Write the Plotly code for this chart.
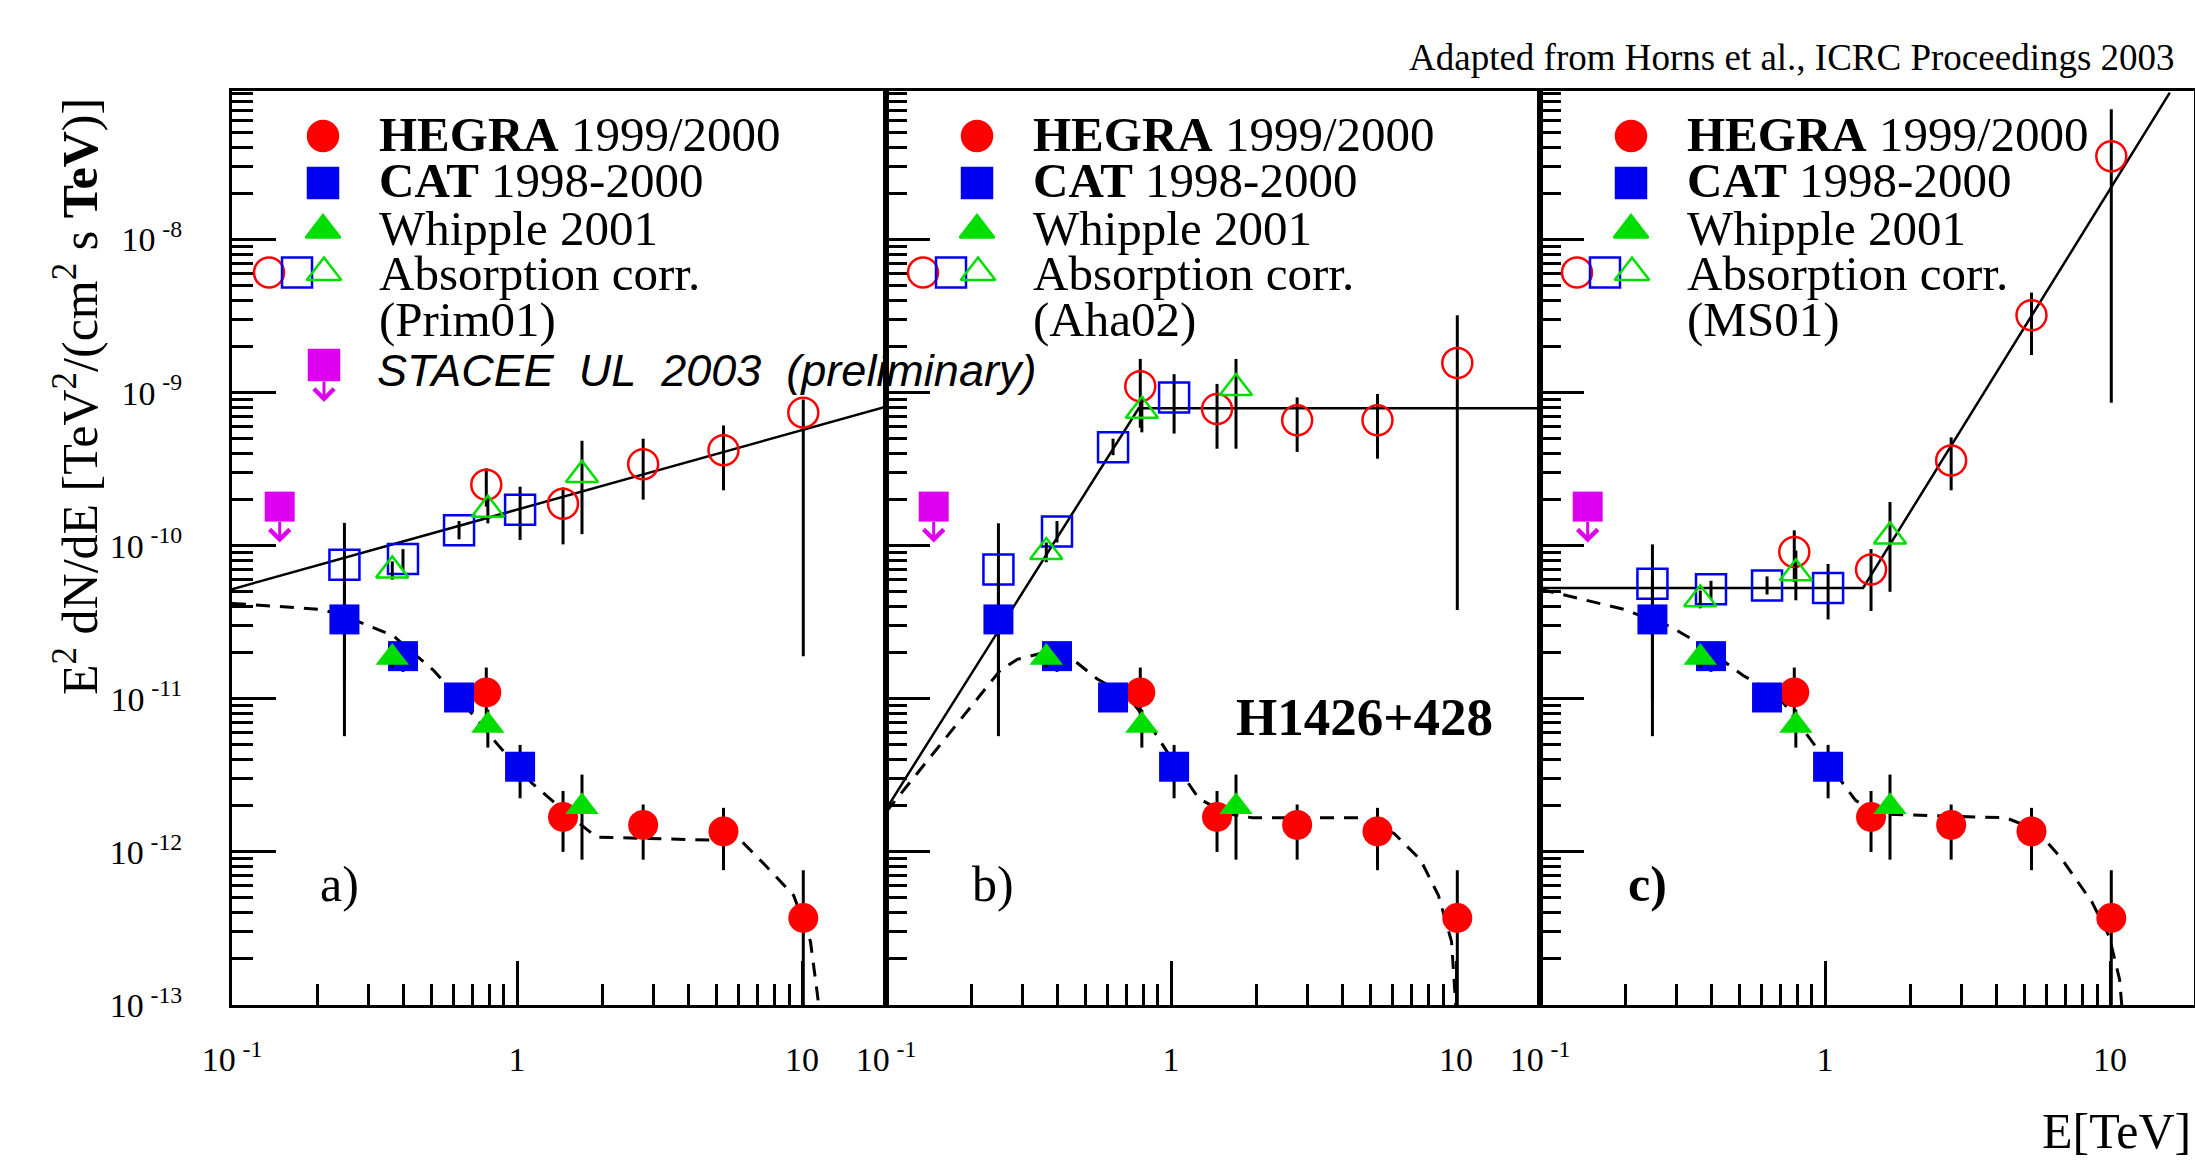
import numpy as np
import plotly.graph_objects as go

W, H = 2195, 1163

# ---------------- measured spectra (E in TeV, E^2 dN/dE in TeV cm^-2 s^-1) ----------------
hegra_e = [0.78, 1.45, 2.77, 5.3, 10.1]
hegra_f = [1.10e-11, 1.69e-12, 1.50e-12, 1.36e-12, 3.7e-13]
hegra_hi = [1.6e-11, 2.5e-12, 2.04e-12, 1.94e-12, 7.6e-13]
hegra_lo = [7.6e-12, 1.0e-12, 8.9e-13, 7.6e-13, 1e-15]

cat_e = [0.248, 0.398, 0.626, 1.025]
cat_f = [3.3e-11, 1.9e-11, 1.02e-11, 3.6e-12]
cat_hi = [6.2e-11, 2.25e-11, 1.2e-11, 5.0e-12]
cat_lo = [5.7e-12, 1.5e-11, 8.8e-12, 2.24e-12]

whipple_e = [0.365, 0.79, 1.69]
whipple_f = [1.86e-11, 6.7e-12, 1.97e-12]
whipple_hi = [2.1e-11, 8.5e-12, 3.2e-12]
whipple_lo = [1.6e-11, 4.8e-12, 8.9e-13]

stacee_e = [0.147]
stacee_f = [1.8e-10]

# ---------------- absorption-corrected spectra ----------------
prim01_hegra_f = [2.5e-10, 1.88e-10, 3.4e-10, 4.2e-10, 7.4e-10]
prim01_hegra_hi = [3.2e-10, 2.4e-10, 5.0e-10, 6.1e-10, 9.0e-10]
prim01_hegra_lo = [1.8e-10, 1.02e-10, 2.0e-10, 2.3e-10, 1.9e-11]
prim01_cat_f = [7.5e-11, 8.2e-11, 1.26e-10, 1.72e-10]
prim01_cat_hi = [1.41e-10, 9.5e-11, 1.45e-10, 2.43e-10]
prim01_cat_lo = [1.3e-11, 6.9e-11, 1.1e-10, 1.09e-10]
prim01_whipple_f = [6.9e-11, 1.72e-10, 2.9e-10]
prim01_whipple_hi = [7.9e-11, 2.1e-10, 4.85e-10]
prim01_whipple_lo = [6.0e-11, 1.4e-10, 1.19e-10]

aha02_hegra_f = [1.1e-9, 7.8e-10, 6.6e-10, 6.6e-10, 1.56e-9]
aha02_hegra_hi = [1.66e-9, 1.14e-9, 9.3e-10, 9.8e-10, 3.2e-9]
aha02_hegra_lo = [5.9e-10, 4.3e-10, 4.1e-10, 3.7e-10, 3.8e-11]
aha02_cat_f = [7.0e-11, 1.24e-10, 4.4e-10, 9.3e-10]
aha02_cat_hi = [1.4e-10, 1.45e-10, 5.0e-10, 1.32e-9]
aha02_cat_lo = [1.2e-11, 1.05e-10, 3.9e-10, 5.4e-10]
aha02_whipple_f = [9.1e-11, 7.6e-10, 1.07e-9]
aha02_whipple_hi = [1.05e-10, 9.5e-10, 1.66e-9]
aha02_whipple_lo = [7.8e-11, 5.5e-10, 4.3e-10]

ms01_hegra_f = [9.1e-11, 7.0e-11, 3.6e-10, 3.2e-9, 3.5e-8]
ms01_hegra_hi = [1.26e-10, 9.5e-11, 5.1e-10, 4.5e-9, 7.1e-8]
ms01_hegra_lo = [5.8e-11, 3.75e-11, 2.3e-10, 1.76e-9, 8.6e-10]
ms01_cat_f = [5.65e-11, 5.2e-11, 5.5e-11, 5.3e-11]
ms01_cat_hi = [1.02e-10, 5.9e-11, 6.3e-11, 7.6e-11]
ms01_cat_lo = [1.0e-11, 4.5e-11, 4.8e-11, 3.3e-11]
ms01_whipple_f = [4.47e-11, 6.6e-11, 1.15e-10]
ms01_whipple_hi = [5.1e-11, 9.3e-11, 1.93e-10]
ms01_whipple_lo = [3.9e-11, 4.4e-11, 5.0e-11]

# ---------------- model curves ----------------
# observed (absorbed) spectrum shapes
obs_a_e = [0.1, 0.201, 0.242, 0.369, 0.512, 0.711, 0.857, 1.13, 1.57, 1.90, 6.12, 7.37, 9.34, 10.7, 11.3, 11.6]
obs_a_f = [4.2e-11, 3.85e-11, 3.55e-11, 2.57e-11, 1.52e-11, 7.6e-12, 5.0e-12, 2.8e-12, 1.66e-12,
           1.25e-12, 1.18e-12, 8.3e-13, 5.2e-13, 2.6e-13, 1.2e-13, 8e-14]
obs_b_e = [0.1, 0.252, 0.289, 0.345, 0.444, 0.55, 0.706, 0.845, 1.01, 1.25, 1.55, 1.93, 4.55, 6.06,
           7.5, 8.67, 9.64, 10.0, 10.05]
obs_b_f = [1.82e-12, 1.54e-11, 1.81e-11, 1.97e-11, 1.86e-11, 1.35e-11, 1.04e-11, 6.7e-12, 4.0e-12,
           2.24e-12, 1.78e-12, 1.67e-12, 1.67e-12, 1.32e-12, 8.9e-13, 5.2e-13, 2.6e-13, 1.0e-13, 8e-14]
obs_c_e = [0.1, 0.195, 0.286, 0.365, 0.516, 0.682, 0.966, 1.28, 1.52, 4.31, 5.5, 6.77, 8.64, 9.93,
           10.8, 11.0, 11.1]
obs_c_f = [5.2e-11, 3.86e-11, 2.97e-11, 2.28e-11, 1.42e-11, 1.06e-11, 4.4e-12, 2.17e-12, 1.77e-12,
           1.67e-12, 1.4e-12, 9.0e-13, 4.7e-13, 2.8e-13, 1.47e-13, 1.0e-13, 8e-14]
# intrinsic (de-absorbed) spectrum fits
fit_a_e = [0.1, 19.7]
fit_a_f = [5.2e-11, 8.1e-10]
fit_b_e = [0.1, 0.77, 19.7]
fit_b_f = [1.9e-12, 7.9e-10, 7.9e-10]
fit_c_e = [0.1, 1.36, 16.2]
fit_c_f = [5.3e-11, 5.3e-11, 9.1e-8]

panel_labels = ["a)", "b)", "<b>c)</b>"]
ebl_models = ["(Prim01)", "(Aha02)", "(MS01)"]
x_tick_vals = [0.1, 1, 10]
x_tick_text = ["10\u2009<sup>-1</sup>", "1", "10"]
y_tick_exps = [-13, -12, -11, -10, -9, -8]

# ---------------- styling ----------------
RED, BLUE, GREEN, MAGENTA = "#ff0000", "#0000f0", "#00dd00", "#dd00ee"
SERIF = "Liberation Serif"
MS = 30
edges = [232, 886, 1540, 2194]
top_px, bot_px = 91, 1005


def fx(p):
    return p / W


def fy(p):
    return 1 - p / H


def errs(f, hi, lo):
    return dict(type="data", symmetric=False,
                array=[h - v for v, h in zip(f, hi)],
                arrayminus=[v - l for v, l in zip(f, lo)],
                color="black", thickness=3, width=0)


corrected = [
    (prim01_hegra_f, prim01_hegra_hi, prim01_hegra_lo, prim01_cat_f, prim01_cat_hi, prim01_cat_lo,
     prim01_whipple_f, prim01_whipple_hi, prim01_whipple_lo),
    (aha02_hegra_f, aha02_hegra_hi, aha02_hegra_lo, aha02_cat_f, aha02_cat_hi, aha02_cat_lo,
     aha02_whipple_f, aha02_whipple_hi, aha02_whipple_lo),
    (ms01_hegra_f, ms01_hegra_hi, ms01_hegra_lo, ms01_cat_f, ms01_cat_hi, ms01_cat_lo,
     ms01_whipple_f, ms01_whipple_hi, ms01_whipple_lo),
]
observed_curves = [(obs_a_e, obs_a_f), (obs_b_e, obs_b_f), (obs_c_e, obs_c_f)]
fit_curves = [(fit_a_e, fit_a_f), (fit_b_e, fit_b_f), (fit_c_e, fit_c_f)]

fig = go.Figure()

for i in range(3):
    xa = "x" if i == 0 else f"x{i + 1}"
    ya = "y" if i == 0 else f"y{i + 1}"
    oe, of = observed_curves[i]
    fe, ff = fit_curves[i]
    (hf, hh, hl, cf, ch, cl, wf, wh, wl) = corrected[i]

    fig.add_trace(go.Scatter(x=oe, y=of, mode="lines", xaxis=xa, yaxis=ya,
                             line=dict(color="black", width=3, dash="14px,10px")))
    fig.add_trace(go.Scatter(x=fe, y=ff, mode="lines", xaxis=xa, yaxis=ya,
                             line=dict(color="black", width=2.5)))

    # absorption-corrected points (open symbols)
    fig.add_trace(go.Scatter(x=hegra_e, y=hf, mode="markers", xaxis=xa, yaxis=ya,
                             error_y=errs(hf, hh, hl),
                             marker=dict(symbol="circle-open", size=MS, color=RED, line=dict(width=2.5))))
    fig.add_trace(go.Scatter(x=cat_e, y=cf, mode="markers", xaxis=xa, yaxis=ya,
                             error_y=errs(cf, ch, cl),
                             marker=dict(symbol="square-open", size=MS, color=BLUE, line=dict(width=2.5))))
    fig.add_trace(go.Scatter(x=whipple_e, y=wf, mode="markers", xaxis=xa, yaxis=ya,
                             error_y=errs(wf, wh, wl),
                             marker=dict(symbol="triangle-up-open", size=MS - 2, color=GREEN,
                                         line=dict(width=2.5))))

    # observed points (filled symbols)
    fig.add_trace(go.Scatter(x=hegra_e, y=hegra_f, mode="markers", xaxis=xa, yaxis=ya,
                             error_y=errs(hegra_f, hegra_hi, hegra_lo),
                             marker=dict(symbol="circle", size=MS, color=RED)))
    fig.add_trace(go.Scatter(x=cat_e, y=cat_f, mode="markers", xaxis=xa, yaxis=ya,
                             error_y=errs(cat_f, cat_hi, cat_lo),
                             marker=dict(symbol="square", size=MS, color=BLUE)))
    fig.add_trace(go.Scatter(x=whipple_e, y=whipple_f, mode="markers", xaxis=xa, yaxis=ya,
                             error_y=errs(whipple_f, whipple_hi, whipple_lo),
                             marker=dict(symbol="triangle-up", size=MS - 1, color=GREEN)))
    fig.add_trace(go.Scatter(x=stacee_e, y=stacee_f, mode="markers", xaxis=xa, yaxis=ya,
                             marker=dict(symbol="square", size=MS, color=MAGENTA)))

# legend keys drawn on a pixel-coordinate overlay
key_x, key_y, key_sym, key_col = [], [], [], []
for i in range(3):
    L = edges[i]
    key_x += [L + 91, L + 91, L + 91, L + 37, L + 65, L + 92]
    key_y += [136, 183, 230, 272.5, 272.5, 272.5]
    key_sym += ["circle", "square", "triangle-up", "circle-open", "square-open", "triangle-up-open"]
    key_col += [RED, BLUE, GREEN, RED, BLUE, GREEN]
key_x.append(edges[0] + 92)
key_y.append(365)
key_sym.append("square")
key_col.append(MAGENTA)
fig.add_trace(go.Scatter(x=key_x, y=key_y, mode="markers", xaxis="x4", yaxis="y4",
                         marker=dict(symbol=key_sym, size=MS, color=key_col,
                                     line=dict(width=2.5, color=key_col))))

# ---------------- axes ----------------
minor_x = [m * 10.0 ** k for k in (-1, 0) for m in range(2, 10)]
minor_y = [m * 10.0 ** k for k in range(-13, -7) for m in range(2, 10)]
xr = [-1, float(np.log10(19.7))]
yr = [-13, -7.03]
tick_font = dict(family=SERIF, size=34, color="black")

layout = dict(width=W, height=H, margin=dict(l=0, r=0, t=0, b=0, pad=0, autoexpand=False),
              paper_bgcolor="white", plot_bgcolor="rgba(0,0,0,0)", showlegend=False)
for i in range(3):
    sx = "" if i == 0 else str(i + 1)
    layout[f"xaxis{sx}"] = dict(
        type="log", range=xr, domain=[fx(edges[i]), fx(edges[i + 1])], anchor=f"y{sx}",
        automargin=False,
        showline=True, mirror=True, linecolor="black", linewidth=3,
        ticks="inside", ticklen=44, tickwidth=3, tickcolor="black",
        tickmode="array", tickvals=x_tick_vals, ticktext=x_tick_text, tickfont=tick_font,
        ticklabelstandoff=22, showgrid=False, zeroline=False,
        minor=dict(tickmode="array", tickvals=minor_x, ticks="inside", ticklen=21,
                   tickwidth=3, tickcolor="black", showgrid=False))
    layout[f"yaxis{sx}"] = dict(
        type="log", range=yr, domain=[fy(bot_px), fy(top_px)], anchor=f"x{sx}",
        automargin=False,
        showline=True, mirror=True, linecolor="black", linewidth=3,
        ticks="inside", ticklen=44, tickwidth=3, tickcolor="black",
        tickmode="array", tickvals=[10.0 ** k for k in y_tick_exps],
        ticktext=[f"10\u2009<sup>{k}</sup>" for k in y_tick_exps], tickfont=tick_font,
        showticklabels=(i == 0), ticklabelstandoff=40, showgrid=False, zeroline=False,
        minor=dict(tickmode="array", tickvals=minor_y, ticks="inside", ticklen=21,
                   tickwidth=3, tickcolor="black", showgrid=False))
layout["xaxis4"] = dict(domain=[0, 1], range=[0, W], visible=False, anchor="y4",
                        fixedrange=True, automargin=False)
layout["yaxis4"] = dict(domain=[0, 1], range=[H, 0], visible=False, anchor="x4",
                        fixedrange=True, automargin=False)

# ---------------- text ----------------
ann = []


def text(x, y, s, size, xanchor="center", family=SERIF, angle=0):
    ann.append(dict(x=fx(x), y=fy(y), xref="paper", yref="paper", text=s, showarrow=False,
                    xanchor=xanchor, yanchor="middle", textangle=angle,
                    font=dict(family=family, size=size, color="black")))


text(2177, 57, "Adapted from Horns et al., ICRC Proceedings 2003", 37, xanchor="right")
text(77, 397, "E<sup>2</sup> dN/dE [TeV<sup>2</sup>/(cm<sup>2</sup> s <b>TeV</b>)]", 50, angle=-90)
text(2116, 1131, "E[TeV]", 50)
text(1364, 717, "<b>H1426+428</b>", 53)
for i in range(3):
    L = edges[i]
    text(L + 107, 884, panel_labels[i], 50)
    rows = ["<b>HEGRA</b> 1999/2000", "<b>CAT</b> 1998-2000", "Whipple 2001",
            "Absorption corr.", ebl_models[i]]
    for s, yy in zip(rows, [134, 181, 228, 273, 320]):
        text(L + 145, yy, s, 49, xanchor="left")
nb = "\u00a0\u00a0"
text(edges[0] + 143, 370, f"STACEE{nb}UL{nb}2003{nb}(preliminary)", 45, xanchor="left",
     family="Liberation Sans")
ann[-1]["font"]["style"] = "italic"

# upper-limit arrows below the STACEE squares
for i in range(3):
    xa = "x" if i == 0 else f"x{i + 1}"
    ya = "y" if i == 0 else f"y{i + 1}"
    ann.append(dict(x=float(np.log10(stacee_e[0])), y=float(np.log10(stacee_f[0])) - 0.235,
                    xref=xa, yref=ya, ax=0, ay=-22, axref="pixel", ayref="pixel", text="",
                    showarrow=True, arrowhead=4, arrowsize=1.3, arrowwidth=3, arrowcolor=MAGENTA))
ann.append(dict(x=fx(edges[0] + 92), y=fy(402), xref="paper", yref="paper", ax=0, ay=-22,
                text="", showarrow=True, arrowhead=4, arrowsize=1.3, arrowwidth=3,
                arrowcolor=MAGENTA))

layout["annotations"] = ann
fig.update_layout(**layout)
fig.write_html("out.html")
